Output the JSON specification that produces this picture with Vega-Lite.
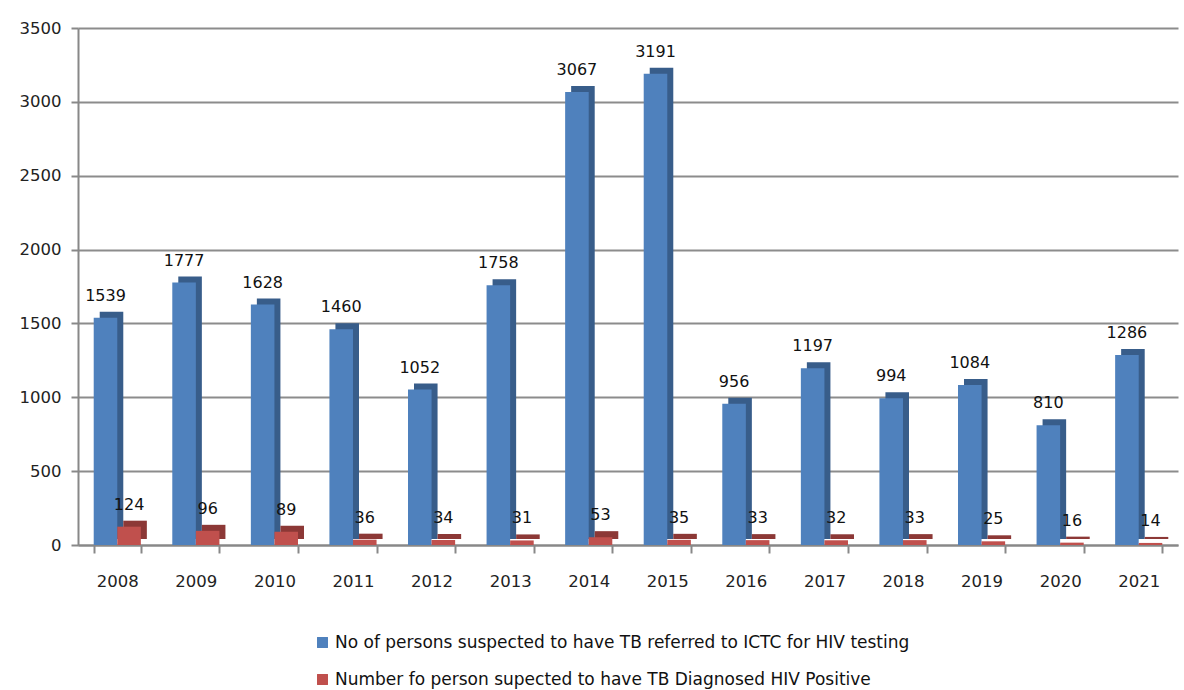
{
  "$schema": "https://vega.github.io/schema/vega-lite/v6.json",
  "width": 1100,
  "height": 517,
  "autosize": {"type": "none"},
  "padding": {"left": 78, "top": 28, "right": 6, "bottom": 145},
  "background": "white",
  "config": {
    "view": {"stroke": null},
    "font": "DejaVu Sans",
    "axis": {"labelFont": "DejaVu Sans", "labelFontSize": 16.5, "labelColor": "#222"}
  },
  "data": {
    "values": [
      {"year": "2008", "series": "No of persons suspected to have TB referred  to ICTC for HIV testing", "value": 1539},
      {"year": "2009", "series": "No of persons suspected to have TB referred  to ICTC for HIV testing", "value": 1777},
      {"year": "2010", "series": "No of persons suspected to have TB referred  to ICTC for HIV testing", "value": 1628},
      {"year": "2011", "series": "No of persons suspected to have TB referred  to ICTC for HIV testing", "value": 1460},
      {"year": "2012", "series": "No of persons suspected to have TB referred  to ICTC for HIV testing", "value": 1052},
      {"year": "2013", "series": "No of persons suspected to have TB referred  to ICTC for HIV testing", "value": 1758},
      {"year": "2014", "series": "No of persons suspected to have TB referred  to ICTC for HIV testing", "value": 3067},
      {"year": "2015", "series": "No of persons suspected to have TB referred  to ICTC for HIV testing", "value": 3191},
      {"year": "2016", "series": "No of persons suspected to have TB referred  to ICTC for HIV testing", "value": 956},
      {"year": "2017", "series": "No of persons suspected to have TB referred  to ICTC for HIV testing", "value": 1197},
      {"year": "2018", "series": "No of persons suspected to have TB referred  to ICTC for HIV testing", "value": 994},
      {"year": "2019", "series": "No of persons suspected to have TB referred  to ICTC for HIV testing", "value": 1084},
      {"year": "2020", "series": "No of persons suspected to have TB referred  to ICTC for HIV testing", "value": 810},
      {"year": "2021", "series": "No of persons suspected to have TB referred  to ICTC for HIV testing", "value": 1286},
      {"year": "2008", "series": "Number fo person supected to have TB Diagnosed HIV Positive", "value": 124},
      {"year": "2009", "series": "Number fo person supected to have TB Diagnosed HIV Positive", "value": 96},
      {"year": "2010", "series": "Number fo person supected to have TB Diagnosed HIV Positive", "value": 89},
      {"year": "2011", "series": "Number fo person supected to have TB Diagnosed HIV Positive", "value": 36},
      {"year": "2012", "series": "Number fo person supected to have TB Diagnosed HIV Positive", "value": 34},
      {"year": "2013", "series": "Number fo person supected to have TB Diagnosed HIV Positive", "value": 31},
      {"year": "2014", "series": "Number fo person supected to have TB Diagnosed HIV Positive", "value": 53},
      {"year": "2015", "series": "Number fo person supected to have TB Diagnosed HIV Positive", "value": 35},
      {"year": "2016", "series": "Number fo person supected to have TB Diagnosed HIV Positive", "value": 33},
      {"year": "2017", "series": "Number fo person supected to have TB Diagnosed HIV Positive", "value": 32},
      {"year": "2018", "series": "Number fo person supected to have TB Diagnosed HIV Positive", "value": 33},
      {"year": "2019", "series": "Number fo person supected to have TB Diagnosed HIV Positive", "value": 25},
      {"year": "2020", "series": "Number fo person supected to have TB Diagnosed HIV Positive", "value": 16},
      {"year": "2021", "series": "Number fo person supected to have TB Diagnosed HIV Positive", "value": 14}
    ]
  },
  "encoding": {
    "x": {
      "field": "year", "type": "nominal", "title": null,
      "scale": {"paddingInner": 0.4, "paddingOuter": 0.2},
      "axis": {"labelAngle": 0, "labelPadding": 20, "tickBand": "extent", "tickSize": 8, "tickColor": "#888", "tickWidth": 2, "domainColor": "#888", "domainWidth": 2, "grid": false}
    },
    "y": {
      "field": "value", "type": "quantitative", "title": null,
      "scale": {"domain": [0, 3500], "nice": false},
      "axis": {"values": [0, 500, 1000, 1500, 2000, 2500, 3000, 3500], "format": "d", "labelPadding": 10, "tickSize": 7, "tickColor": "#888", "tickWidth": 2, "domainColor": "#888", "domainWidth": 2, "gridColor": "#8c8c8c", "gridWidth": 2}
    }
  },
  "resolve": {"scale": {"xOffset": "independent", "color": "independent"}, "legend": {"color": "independent"}},
  "layer": [
    {
      "mark": {"type": "bar", "yOffset": -6},
      "encoding": {
        "xOffset": {
          "field": "series", "type": "nominal",
          "scale": {"domain": ["No of persons suspected to have TB referred  to ICTC for HIV testing", "Number fo person supected to have TB Diagnosed HIV Positive"], "range": [6, 53.14]}
        },
        "color": {
          "field": "series", "type": "nominal", "legend": null,
          "scale": {"domain": ["No of persons suspected to have TB referred  to ICTC for HIV testing", "Number fo person supected to have TB Diagnosed HIV Positive"], "range": ["#385D8A", "#8C3836"]}
        }
      }
    },
    {
      "mark": {"type": "bar"},
      "encoding": {
        "xOffset": {
          "field": "series", "type": "nominal",
          "scale": {"domain": ["No of persons suspected to have TB referred  to ICTC for HIV testing", "Number fo person supected to have TB Diagnosed HIV Positive"], "range": [0, 47.14]}
        },
        "color": {
          "field": "series", "type": "nominal",
          "scale": {"domain": ["No of persons suspected to have TB referred  to ICTC for HIV testing", "Number fo person supected to have TB Diagnosed HIV Positive"], "range": ["#4F81BD", "#C0504D"]},
          "legend": {"title": null, "orient": "none", "legendX": 236, "legendY": 606, "direction": "vertical", "symbolType": "square", "symbolSize": 120, "symbolStrokeWidth": 0, "labelFontSize": 17, "labelFont": "DejaVu Sans", "labelColor": "#111", "rowPadding": 19, "labelLimit": 900, "labelOffset": 4}
        }
      }
    },
    {
      "mark": {"type": "text", "baseline": "bottom", "dy": -14, "fontSize": 16, "font": "DejaVu Sans", "color": "#111"},
      "encoding": {
        "xOffset": {
          "field": "series", "type": "nominal",
          "scale": {"domain": ["No of persons suspected to have TB referred  to ICTC for HIV testing", "Number fo person supected to have TB Diagnosed HIV Positive"], "range": [0, 47.14]}
        },
        "text": {"field": "value", "type": "quantitative"}
      }
    }
  ]
}
